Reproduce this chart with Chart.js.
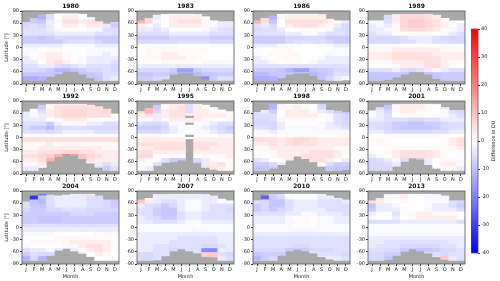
<!DOCTYPE html>
<html>
<head>
<meta charset="utf-8">
<script src="https://cdn.jsdelivr.net/npm/chart.js@4/dist/chart.umd.min.js"></script>
<style>
  html, body { margin: 0; padding: 0; background: #fff; overflow: hidden; }
  #wrap { position: relative; width: 500px; height: 281px; }
  canvas { position: absolute; }
</style>
</head>
<body>
<div id="wrap"></div>
<script>
const months = ["J", "F", "M", "A", "M", "J", "J", "A", "S", "O", "N", "D"];
const years = ["1980", "1983", "1986", "1989", "1992", "1995", "1998", "2001", "2004", "2007", "2010", "2013"];
// lower edge of each 10 degree latitude band, north to south
const bandLo = [80, 70, 60, 50, 40, 30, 20, 10, 0, -10, -20, -30, -40, -50, -60, -70, -80, -90];
const latTicks = [-90, -60, -30, 0, 30, 60, 90];
const cbarTicks = [-40, -30, -20, -10, 0, 10, 20, 30, 40];

// data coverage limits (latitude) per month
const north1980 = [62, 72, 80, 82, 83, 83, 83, 82, 74, 64, 58, 62];
const south1980 = [-80, -81, -81, -71, -65, -59, -59, -66, -75, -81, -81, -81];
const north1983 = [66, 72, 80, 81, 82, 82, 82, 81, 76, 66, 64, 64];
const south1983 = [-81, -81, -81, -78, -66, -63, -63, -70, -78, -81, -81, -81];
const north1986 = [66, 72, 78, 81, 82, 82, 82, 82, 81, 70, 66, 66];
const south1986 = [-81, -81, -81, -75, -66, -63, -63, -69, -79, -81, -81, -80];
const north1989 = [66, 66, 80, 81, 82, 82, 82, 82, 80, 72, 66, 66];
const south1989 = [-81, -81, -79, -73, -66, -60, -60, -66, -77, -81, -81, -81];
const north1992 = [63, 70, 80, 81, 82, 82, 82, 82, 80, 76, 70, 58];
const south1992 = [-81, -81, -74, -58, -47, -42, -44, -52, -63, -74, -81, -81];
const north1995 = [64, 72, 80, 81, 82, 82, 82, 82, 80, 74, 68, 64];
const south1995 = [-81, -81, -69, -62, -60, -56, -3, -63, -74, -79, -81, -81];
const north1998 = [62, 67, 82, 81, 82, 82, 82, 82, 81, 67, 65, 62];
const south1998 = [-81, -81, -76, -67, -56, -46, -52, -60, -71, -81, -81, -79];
const north2001 = [66, 74, 80, 81, 82, 82, 82, 82, 81, 74, 67, 67];
const south2001 = [-81, -81, -81, -71, -59, -51, -54, -67, -76, -81, -81, -81];
const north2004 = [63, 78, 82, 80, 78, 80, 82, 82, 82, 78, 68, 68];
const south2004 = [-81, -81, -81, -69, -56, -52, -58, -64, -72, -81, -81, -81];
const north2007 = [68, 72, 81, 81, 82, 82, 82, 82, 81, 78, 70, 66];
const south2007 = [-81, -81, -80, -70, -58, -53, -58, -63, -72, -73, -81, -81];
const north2010 = [66, 78, 81, 81, 82, 82, 82, 82, 81, 78, 72, 68];
const south2010 = [-81, -81, -81, -69, -58, -54, -58, -63, -72, -78, -81, -81];
const north2013 = [66, 72, 81, 81, 82, 82, 82, 82, 81, 78, 66, 66];
const south2013 = [-81, -81, -79, -69, -59, -53, -58, -63, -72, -79, -81, -81];

// missing latitude strips in July 1995
const gaps1995 = [[49, 53], [32, 36], [2, 6]];

// difference in DU, one row per band (bandLo order), one value per month
const d1980 = [
  [-6, -9, -12, -5, 0, 1, 1, 0, -1, 0, -3, -6],
  [-6, -9, -12, -5, 0, 3, 3, 0, -1, 1, -3, -6],
  [-6, -8, -9, -3, 1, 5, 5, 3, 5, 5, -3, -6],
  [-6, -5, -6, -3, 0, 3, 3, 1, 3, 3, -3, -8],
  [-5, -5, -5, -3, -1, 0, 0, 0, -1, -1, -5, -5],
  [-5, -5, -5, -5, -3, -3, -3, -3, -3, -5, -5, -5],
  [-8, -8, -9, -8, -6, -6, -6, -6, -6, -8, -8, -8],
  [-8, -8, -8, -8, -8, -6, -5, -5, -5, -6, -8, -8],
  [-3, -3, -3, -3, -3, -1, -1, -1, -1, -3, -3, -3],
  [-1, -1, 0, 1, 1, 0, 0, 0, -1, -1, -1, -1],
  [-1, 0, 1, 3, 3, 1, 0, 0, -1, -1, -3, -1],
  [-3, -1, 1, 3, 3, 1, 0, -1, -3, -3, -3, -3],
  [-3, -3, 0, 3, 5, 3, 1, -1, -3, -3, -3, -5],
  [-5, -5, -3, -3, -5, -6, -5, -3, -5, -5, -5, -6],
  [-6, -6, -6, -8, -11, -11, -9, -8, -6, -6, -5, -6],
  [-9, -9, -9, -9, -9, -9, -9, -9, -9, -8, -5, -5],
  [-13, -13, -12, -9, -9, -9, -9, -9, -9, -9, -5, -3],
  [-11, -12, -12, -9, -9, -9, -9, -9, -9, -8, -3, -3],
];
const d1983 = [
  [12, 6, -3, 0, 1, 1, 1, 1, 0, 0, -1, -3],
  [12, 6, -3, 0, 3, 3, 3, 3, 1, 0, -3, -3],
  [12, 6, -1, 0, 3, 5, 5, 5, 1, 0, -3, -3],
  [3, 1, -3, 0, 3, 3, 3, 3, 1, -1, -3, -3],
  [-3, -3, -5, -3, 0, 0, 0, 0, -1, -3, -5, -5],
  [-5, -5, -5, -5, -3, -3, -3, -3, -3, -5, -5, -5],
  [-8, -8, -8, -8, -6, -6, -6, -6, -6, -8, -8, -8],
  [-6, -6, -6, -6, -6, -5, -5, -5, -5, -6, -6, -6],
  [-1, -1, -1, -1, -1, 0, 0, 0, 0, -1, -1, -1],
  [0, 1, 1, 1, 1, 1, 1, 1, 1, 0, 0, 0],
  [0, 1, 1, 3, 3, 1, 1, 1, 0, 0, 0, 0],
  [0, 1, 1, 3, 3, 3, 1, 1, 0, 0, 0, 0],
  [-1, 0, 0, 1, 1, 1, 1, 0, -1, -1, -1, -1],
  [-3, -3, -3, -3, -3, -3, -3, -3, -3, -3, -3, -3],
  [-6, -6, -6, -6, -8, -15, -15, -8, -6, -6, -6, -6],
  [-9, -9, -8, -8, -9, -12, -12, -11, -9, -9, -8, -8],
  [-8, -8, -6, -6, -6, -6, -6, -9, -18, -8, -5, -5],
  [-6, -6, -6, -5, -5, -5, -5, -5, -5, -5, -5, -5],
];
const d1986 = [
  [12, 5, -12, 0, 1, 1, 1, 1, 3, 0, -3, -3],
  [12, 5, -12, -1, 3, 3, 3, 3, 3, 0, -3, -3],
  [12, 5, -9, 0, 5, 5, 5, 5, 5, 3, 1, -3],
  [-5, -3, -6, 0, 3, 5, 5, 5, 3, 1, -3, -6],
  [-6, -5, -5, -3, 0, 0, 1, 1, 0, -1, -5, -6],
  [-5, -5, -5, -5, -3, -3, -1, -1, -3, -5, -5, -5],
  [-8, -8, -8, -8, -6, -6, -6, -6, -6, -8, -8, -8],
  [-8, -8, -8, -8, -6, -5, -5, -5, -5, -6, -8, -8],
  [-3, -3, -3, -1, -1, -1, 0, 0, -1, -1, -3, -3],
  [-1, 0, 0, 1, 1, 0, 0, 0, 0, 0, -1, -1],
  [-1, 0, 1, 1, 1, 1, 0, 0, 0, -1, -1, -1],
  [-3, -1, 0, 1, 1, 1, 0, 0, -1, -3, -3, -3],
  [-3, -3, -1, 0, 1, 1, 0, -1, -3, -3, -3, -3],
  [-5, -5, -5, -5, -5, -5, -5, -5, -5, -5, -5, -5],
  [-8, -8, -8, -9, -12, -15, -15, -9, -8, -8, -6, -6],
  [-11, -11, -9, -9, -9, -9, -9, -11, -9, -8, -5, -5],
  [-13, -13, -12, -9, -9, -9, -9, -9, -9, -6, -3, -1],
  [-12, -12, -11, -8, -8, -8, -8, -8, -8, -5, -1, -1],
];
const d1989 = [
  [-1, -3, -6, 3, 6, 6, 6, 5, 3, 0, -1, -1],
  [-1, -3, -6, 3, 6, 6, 6, 5, 3, 0, -1, -1],
  [-1, -1, -5, 3, 6, 8, 8, 6, 5, 1, -1, -1],
  [-3, -1, -3, 1, 6, 8, 8, 6, 5, 3, 0, -3],
  [-3, -3, -1, 1, 5, 6, 6, 5, 3, 1, -1, -3],
  [-5, -3, -3, -1, 1, 1, 1, 1, 0, -1, -3, -5],
  [-6, -6, -6, -6, -5, -3, -3, -3, -5, -6, -6, -6],
  [-6, -6, -6, -6, -5, -5, -3, -3, -5, -5, -6, -6],
  [-1, -1, -1, -1, 0, 0, 0, 0, 0, -1, -1, -1],
  [1, 1, 1, 3, 3, 3, 3, 3, 3, 1, 1, 1],
  [3, 3, 3, 5, 5, 5, 5, 5, 3, 3, 3, 3],
  [3, 3, 3, 5, 5, 5, 5, 5, 5, 3, 3, 3],
  [1, 1, 1, 3, 3, 3, 3, 5, 5, 3, 1, 1],
  [0, 0, 1, 1, 3, 3, 3, 5, 5, 3, 1, 0],
  [-5, -5, -5, -3, -5, -6, -5, -3, -1, -3, -5, -5],
  [-9, -9, -9, -9, -9, -9, -9, -9, -9, -8, -8, -8],
  [-9, -9, -9, -9, -9, -9, -9, -9, -9, -8, -8, -8],
  [-8, -8, -8, -8, -8, -8, -8, -8, -8, -8, -6, -6],
];
const d1992 = [
  [-5, -3, -8, 1, 3, 3, 3, 3, 3, 3, 5, -1],
  [-5, -3, -8, 1, 5, 5, 5, 5, 5, 5, 5, -1],
  [-3, -1, -5, 3, 5, 6, 6, 6, 5, 5, 6, 1],
  [-3, -1, -3, 3, 5, 6, 6, 6, 5, 5, 5, 1],
  [-3, -3, -3, 0, 1, 3, 3, 3, 1, 1, 0, -1],
  [-5, -5, -5, -8, -3, -1, -1, -1, -3, -3, -5, -5],
  [-6, -8, -8, -11, -6, -5, -5, -5, -6, -6, -6, -6],
  [-5, -5, -5, -6, -5, -3, -3, -3, -3, -5, -5, -5],
  [1, 1, 1, 1, 1, 1, 1, 1, 1, 1, 1, 1],
  [5, 5, 5, 5, 5, 5, 5, 5, 5, 5, 5, 5],
  [1, 1, 1, 3, 1, 1, 1, 1, 1, 1, 1, 1],
  [1, 1, 3, 3, 3, 3, 3, 3, 3, 3, 1, 1],
  [3, 3, 5, 5, 5, 6, 6, 5, 5, 3, 3, 3],
  [5, 5, 6, 8, 12, 22, 15, 9, 6, 5, 3, 3],
  [3, 3, 5, 12, 12, 12, 12, 9, 5, 3, 3, 3],
  [-1, -1, 3, 5, 5, 5, 5, 5, 0, -3, -5, -3],
  [-3, -3, -1, 1, 1, 1, 1, 1, -1, -6, -8, -5],
  [-3, -3, -1, 0, 0, 0, 0, 0, -1, -5, -6, -5],
];
const d1995 = [
  [3, 12, -8, 1, 3, 3, -5, 3, 1, -1, -1, -1],
  [3, 12, -8, 1, 3, 5, -5, 3, 1, -1, -1, -1],
  [5, 12, -6, 3, 5, 5, -5, 3, 3, 1, 1, 1],
  [3, 5, -3, 3, 5, 5, -1, 3, 3, 3, 3, 1],
  [-1, -1, -3, 1, 3, 3, 3, 3, 1, 1, 0, -1],
  [-5, -6, -6, -5, -1, -1, 0, 0, -1, -3, -5, -5],
  [-8, -8, -8, -6, -3, -1, 0, -1, -3, -5, -6, -8],
  [-6, -6, -6, -5, -3, -1, 0, -1, -1, -3, -5, -6],
  [-1, -1, -1, 0, 0, 0, 0, 0, 0, 0, -1, -1],
  [3, 3, 3, 3, 3, 3, 0, 3, 3, 3, 3, 3],
  [5, 5, 5, 5, 5, 5, 0, 5, 5, 5, 3, 3],
  [3, 3, 5, 5, 5, 5, 0, 5, 5, 3, 3, 3],
  [5, 5, 3, 3, 3, 3, 0, 3, 3, 3, 3, 3],
  [6, 6, 1, 1, 1, 0, 0, 0, 1, 1, 1, 3],
  [3, 1, -1, -5, -8, -8, 0, -6, -3, -1, 0, 1],
  [0, -1, -5, -8, -9, -9, 0, -9, -3, 3, 5, 1],
  [-1, -3, -5, -6, -8, -8, 0, -8, 5, 5, 3, 1],
  [-1, -1, -3, -5, -6, -6, 0, -6, 3, 3, 1, 1],
];
const d1998 = [
  [-3, -3, -12, -1, 0, 1, 1, 0, -6, -8, -8, -9],
  [-3, -3, -12, -1, 1, 3, 1, 0, -6, -8, -8, -9],
  [-5, -3, -8, 0, 3, 3, 3, 1, -3, -5, -8, -9],
  [-5, -5, -5, 0, 3, 3, 3, 3, 1, -1, -5, -6],
  [-6, -6, -5, -1, 1, 1, 1, 1, 0, -1, -5, -6],
  [-6, -6, -6, -3, 0, 0, 0, 0, -1, -3, -5, -6],
  [-5, -5, -6, -3, -1, -1, -1, -1, -1, -3, -3, -5],
  [-1, -1, -3, -1, -1, -1, -1, -1, -1, -1, -1, -1],
  [1, 1, 1, 0, 1, 1, 1, 1, 0, 0, 1, 1],
  [5, 5, 5, 3, 5, 6, 6, 5, 3, 3, 3, 3],
  [3, 3, 5, 3, 5, 6, 5, 5, 3, 3, 3, 3],
  [1, 1, 3, 3, 3, 3, 3, 3, 3, 3, 1, 1],
  [0, 1, 1, 3, 3, 3, 3, 5, 5, 5, 3, 1],
  [-1, 0, 1, 3, 3, 3, 5, 5, 5, 5, 3, 0],
  [-5, -3, 0, 1, 3, 3, 3, 5, 5, 3, 0, -3],
  [-8, -8, -6, -3, 0, 0, 0, 1, 1, -5, -8, -8],
  [-9, -9, -8, -5, 0, 0, 0, 0, -3, -8, -9, -9],
  [-8, -8, -6, -5, 0, 0, 0, 0, -3, -6, -8, -8],
];
const d2001 = [
  [-3, -5, -9, 1, 3, 3, 3, 1, 0, -3, -5, -6],
  [-3, -5, -9, 1, 3, 3, 3, 1, 0, -3, -5, -6],
  [-1, -3, -6, 1, 3, 3, 1, 1, 0, -1, -5, -6],
  [-1, -3, -5, 0, 1, 1, 1, 0, -1, -1, -3, -5],
  [-3, -3, -5, -5, -5, -6, -6, -5, -5, -3, -3, -3],
  [-5, -5, -6, -8, -8, -9, -9, -8, -8, -6, -5, -5],
  [-5, -6, -6, -8, -9, -9, -9, -9, -8, -6, -5, -5],
  [-3, -3, -5, -6, -6, -6, -6, -6, -5, -5, -3, -3],
  [0, 0, -1, -1, -1, -1, -1, -1, -1, -1, 0, 0],
  [1, 1, 1, 0, 0, 0, 0, 0, 0, 1, 3, 5],
  [1, 1, 1, 0, 0, 0, 0, 0, 0, 1, 3, 5],
  [0, 0, 0, 1, 1, 1, 1, 1, 1, 1, 1, 3],
  [-1, 0, 1, 3, 5, 5, 5, 5, 3, 1, 0, -1],
  [-3, -1, 0, 3, 5, 5, 5, 5, 3, 1, 0, -1],
  [-6, -5, -3, -1, -5, -9, -8, -3, 0, 1, 1, -1],
  [-6, -6, -5, -3, -5, -6, -6, -3, 0, 3, 3, -1],
  [-6, -6, -6, -5, -5, -5, -5, -3, -1, 1, 1, -3],
  [-5, -5, -5, -5, -5, -5, -5, -3, -1, 0, 0, -3],
];
const d2004 = [
  [-5, -32, -22, -5, -3, -3, -3, -3, -3, -5, -5, -5],
  [-5, -32, -9, -5, -3, -3, -3, -3, -5, -6, -6, -6],
  [-5, -9, -11, -5, -3, -3, -3, -3, -5, -5, -6, -8],
  [-5, -9, -9, -5, -3, -3, -3, -3, -5, -5, -6, -8],
  [-6, -8, -8, -6, -6, -5, -5, -5, -6, -6, -6, -6],
  [-8, -8, -8, -8, -8, -8, -6, -6, -6, -8, -8, -8],
  [-8, -8, -9, -9, -9, -8, -8, -8, -8, -8, -8, -8],
  [-8, -8, -9, -9, -9, -8, -8, -8, -8, -8, -8, -8],
  [-5, -5, -5, -5, -5, -5, -5, -5, -5, -5, -5, -5],
  [-3, -3, -3, -3, -3, -3, -3, -3, -3, -3, -3, -3],
  [-1, -1, -1, -1, 0, 0, 0, 0, 0, -1, -1, -1],
  [0, 0, 0, 0, 1, 1, 1, 1, 1, 1, 1, 0],
  [0, 1, 1, 1, 1, 1, 3, 3, 3, 3, 3, 1],
  [-1, 0, 0, 0, 0, 1, 1, 3, 5, 5, 3, 1],
  [-5, -3, -3, -1, -3, -5, -3, 0, 3, 5, 3, 1],
  [-8, -5, -6, -6, -8, -8, -6, -3, 0, 3, 1, 0],
  [-12, -6, -12, -8, -8, -8, -8, -6, -3, 0, 0, -1],
  [-9, -6, -9, -6, -6, -6, -6, -5, -3, 0, 0, -1],
];
const d2007 = [
  [9, 1, -3, -3, -3, -3, -3, -3, -3, -3, -1, -1],
  [9, 1, -3, -3, -3, -3, -3, -3, -3, -3, -1, -1],
  [9, 3, -3, -5, -5, -3, -1, -1, -3, -3, -1, 0],
  [-3, -5, -6, -8, -6, -3, -1, -1, -3, -5, -5, -5],
  [-5, -5, -8, -9, -9, -3, -1, -1, -3, -5, -5, -6],
  [-5, -5, -8, -9, -9, -5, -3, -3, -5, -5, -5, -5],
  [-3, -5, -6, -8, -8, -5, -3, -3, -5, -5, -5, -5],
  [-3, -3, -5, -5, -5, -3, -1, -1, -3, -3, -3, -3],
  [-1, -1, -1, -1, -1, -1, -1, 0, -1, -1, -1, -1],
  [-1, -1, -1, -1, -1, -1, -1, -1, -1, -1, -1, -1],
  [-3, -3, -3, -3, -3, -3, -3, -3, -3, -3, -3, -3],
  [-3, -3, -3, -3, -3, -5, -5, -5, -5, -5, -3, -3],
  [-3, -3, -3, -3, -5, -5, -5, -5, -5, -5, -3, -3],
  [-3, -3, -5, -5, -5, -5, -5, -5, -6, -6, -5, -3],
  [-3, -3, -5, -5, -6, -6, -5, -5, -18, -18, -3, -3],
  [-6, -6, -5, -5, -6, 0, 0, -5, 8, 8, -5, -6],
  [-6, -6, -5, -5, 0, 0, 0, 0, 9, 9, -3, -5],
  [-5, -5, -5, -5, 0, 0, 0, 0, 0, 0, -3, -5],
];
const d2010 = [
  [-5, -5, -6, -3, 0, 0, 0, 0, -1, -1, -3, -3],
  [-5, -25, -8, -6, -1, 0, 0, 0, -3, -3, -3, -3],
  [-5, -6, -9, -9, -5, -3, -3, -3, -5, -5, -5, -3],
  [-8, -6, -9, -9, -5, -3, -3, -3, -5, -5, -5, -5],
  [-8, -6, -8, -6, -5, -3, -3, -3, -3, -5, -5, -5],
  [-5, -5, -5, -5, -3, -3, -1, -1, -3, -3, -3, -5],
  [-3, -3, -3, -3, -1, 0, 1, 0, -1, -1, -3, -3],
  [-3, -3, -3, -3, -1, 1, 1, 0, -1, -1, -3, -3],
  [-1, -1, -1, -1, -1, 0, 0, 0, -1, -1, -1, -1],
  [-1, -1, -1, -1, -1, -1, -1, -1, -1, -1, -1, -1],
  [-3, -3, -3, -3, -3, -3, -3, -3, -3, -3, -3, -3],
  [-5, -5, -5, -5, -5, -5, -5, -5, -5, -5, -5, -5],
  [-5, -5, -5, -5, -5, -5, -5, -5, -5, -5, -5, -5],
  [-5, -5, -5, -5, -5, -6, -6, -5, -5, -5, -5, -5],
  [-6, -6, -6, -6, -8, -8, -8, -6, -6, -6, -5, -5],
  [-9, -8, -8, -8, -8, 0, 0, -5, -5, -5, -5, -6],
  [-12, -8, -6, -6, 0, 0, 0, 0, -3, -3, -3, -5],
  [-6, -6, -5, -5, 0, 0, 0, 0, 0, -3, -3, -5],
];
const d2013 = [
  [5, 5, 1, 1, 3, 0, 0, -1, -1, -1, -3, -5],
  [5, 5, 1, 1, 3, 0, 0, -1, -1, -1, -3, -5],
  [5, 3, 1, 0, 1, 0, 0, -1, -1, -1, -5, -6],
  [-9, -3, -3, -1, 0, 0, 0, -1, -3, -3, -5, -8],
  [-8, -3, -3, -3, -1, 0, 0, -1, -3, -3, -3, -6],
  [-3, -1, 0, -5, -1, 1, 3, 3, 1, 1, 1, 0],
  [-1, 0, 0, -3, 0, 1, 3, 3, 3, 3, 3, 1],
  [-5, -5, -5, -5, -3, -3, -3, -3, -3, -3, -3, -5],
  [-1, -1, -1, -1, -1, -1, -1, -1, -1, -1, -1, -1],
  [-1, -1, -1, -1, -1, -1, -1, -1, -1, -1, -1, -1],
  [-1, -1, -1, -1, -1, -1, -1, -1, -1, -1, -1, -1],
  [-3, -3, -3, -3, -3, -3, -3, -3, -3, -3, -3, -3],
  [-3, -3, -5, -5, -5, -5, -5, -5, -5, -5, -3, -3],
  [-3, -5, -5, -5, -6, -6, -6, -6, -6, -5, -5, -3],
  [-5, -5, -6, -6, -8, -9, -9, -9, -8, -6, -6, -5],
  [-6, -6, -8, -8, -8, 0, 0, -5, -5, -6, -5, -5],
  [-6, -6, -9, -8, 0, 0, 0, 0, -3, 9, -3, -5],
  [-5, -5, -8, 0, 0, 0, 0, 0, 0, 0, -3, -5],
];

const values = [d1980, d1983, d1986, d1989, d1992, d1995, d1998, d2001, d2004, d2007, d2010, d2013];
const norths = [north1980, north1983, north1986, north1989, north1992, north1995, north1998, north2001, north2004, north2007, north2010, north2013];
const souths = [south1980, south1983, south1986, south1989, south1992, south1995, south1998, south2001, south2004, south2007, south2010, south2013];

const GREY = "#a9a9a9";
Chart.defaults.font.family = "DejaVu Sans";
Chart.defaults.font.size = 5;
Chart.defaults.color = "#222";

// matplotlib bwr, -40..40
function bwr(v) {
  const t = Math.max(0, Math.min(1, (v + 40) / 80));
  let r, g, b;
  if (t < 0.5) {
    r = g = Math.round(510 * t);
    b = 255;
  } else {
    r = 255;
    g = b = Math.round(510 * (1 - t));
  }
  return `rgb(${r},${g},${b})`;
}

const framePlugin = {
  id: "frame",
  beforeDatasetsDraw(chart, args, opts) {
    if (!opts.fill) return;
    const { ctx, chartArea: a } = chart;
    ctx.save();
    ctx.fillStyle = opts.fill;
    ctx.fillRect(a.left, a.top, a.width, a.height);
    ctx.restore();
  },
  afterDatasetsDraw(chart, args, opts) {
    const { ctx, chartArea: a } = chart;
    ctx.save();
    ctx.strokeStyle = "#555";
    ctx.lineWidth = 0.8;
    ctx.strokeRect(a.left, a.top, a.width, a.height);
    ctx.fillStyle = "#111";
    ctx.textBaseline = "middle";
    if (opts.title) {
      ctx.font = "bold 6px 'DejaVu Sans'";
      ctx.textAlign = "center";
      ctx.fillText(opts.title, (a.left + a.right) / 2, a.top - 5);
    }
    if (opts.sideLabel) {
      // colorbar label, read bottom to top like matplotlib
      ctx.font = "5px 'DejaVu Sans'";
      ctx.textAlign = "center";
      ctx.translate(chart.width - 6, (a.top + a.bottom) / 2);
      ctx.rotate(-Math.PI / 2);
      ctx.fillText(opts.sideLabel, 0, 0);
    }
    ctx.restore();
  },
};

const wrap = document.getElementById("wrap");
const plotLeft = [22, 137, 253, 368];
const plotTop = [11, 101, 191];
const plotW = 97, plotH = 73, yAxisW = 22;

years.forEach((year, i) => {
  const col = i % 4, row = Math.floor(i / 4);
  const xAxisH = row === 2 ? 18 : 10;
  const canvas = document.createElement("canvas");
  canvas.width = yAxisW + plotW + 2;
  canvas.height = 10 + plotH + xAxisH;
  canvas.style.left = (plotLeft[col] - yAxisW) + "px";
  canvas.style.top = (plotTop[row] - 10) + "px";
  wrap.appendChild(canvas);

  const north = norths[i], south = souths[i], vals = values[i];
  // each band reaches 1 degree into the band above (which is drawn over it) to hide seams
  const datasets = bandLo.map((lo, b) => ({
    data: months.map((_, m) => {
      const a = Math.max(lo, south[m]);
      const z = Math.min(lo + 10, north[m]);
      return z > a ? [a, Math.min(z + 1, north[m])] : null;
    }),
    backgroundColor: vals[b].map(bwr),
  }));
  if (year === "1995") {
    gaps1995.forEach(g => {
      datasets.push({ data: months.map((_, m) => (m === 6 ? g : null)), backgroundColor: GREY, order: -1 });
    });
  }
  datasets.forEach(ds => Object.assign(ds, {
    grouped: false, barPercentage: 1, categoryPercentage: 1, borderWidth: 0,
  }));

  new Chart(canvas, {
    type: "bar",
    data: { labels: months, datasets },
    options: {
      responsive: false,
      animation: false,
      events: [],
      layout: { padding: { top: 10, right: 2, left: 0, bottom: 0 } },
      plugins: {
        legend: { display: false },
        tooltip: { enabled: false },
        frame: { fill: GREY, title: year },
      },
      scales: {
        x: {
          grid: { display: true, drawOnChartArea: false, offset: false, tickLength: 2, color: "#333" },
          border: { display: false },
          ticks: { padding: 1, maxRotation: 0, autoSkip: false },
          title: { display: row === 2, text: "Month", padding: { top: 1, bottom: 2 } },
          afterFit: s => { s.height = xAxisH; },
        },
        y: {
          min: -90,
          max: 90,
          afterBuildTicks: s => { s.ticks = latTicks.map(v => ({ value: v })); },
          grid: { display: true, drawOnChartArea: false, tickLength: 2, color: "#333" },
          border: { display: false },
          ticks: { padding: 1 },
          title: { display: col === 0, text: "Latitude [°]", padding: { top: 4, bottom: 0 } },
          afterFit: s => { s.width = yAxisW; },
        },
      },
    },
    plugins: [framePlugin],
  });
});

// colorbar
const cb = document.createElement("canvas");
cb.width = 29;
cb.height = 232;
cb.style.left = "471px";
cb.style.top = "25px";
wrap.appendChild(cb);
new Chart(cb, {
  type: "bar",
  data: {
    labels: [""],
    datasets: [{
      data: [[cbarTicks[0], cbarTicks[cbarTicks.length - 1]]],
      barPercentage: 1,
      categoryPercentage: 1,
      borderWidth: 0,
      backgroundColor: ctx => {
        const a = ctx.chart.chartArea;
        if (!a) return "#fff";
        const g = ctx.chart.ctx.createLinearGradient(0, a.bottom, 0, a.top);
        g.addColorStop(0, bwr(-40));
        g.addColorStop(0.5, bwr(0));
        g.addColorStop(1, bwr(40));
        return g;
      },
    }],
  },
  options: {
    responsive: false,
    animation: false,
    events: [],
    layout: { padding: { top: 4, bottom: 4, left: 0, right: 0 } },
    plugins: {
      legend: { display: false },
      tooltip: { enabled: false },
      frame: { sideLabel: "Difference in DU" },
    },
    scales: {
      x: { display: false },
      y: {
        position: "right",
        min: -40,
        max: 40,
        afterBuildTicks: s => { s.ticks = cbarTicks.map(v => ({ value: v })); },
        grid: { display: true, drawOnChartArea: false, tickLength: 2, color: "#333" },
        border: { display: false },
        ticks: { padding: 1 },
        afterFit: s => { s.width = 22; },
      },
    },
  },
  plugins: [framePlugin],
});
</script>
</body>
</html>
